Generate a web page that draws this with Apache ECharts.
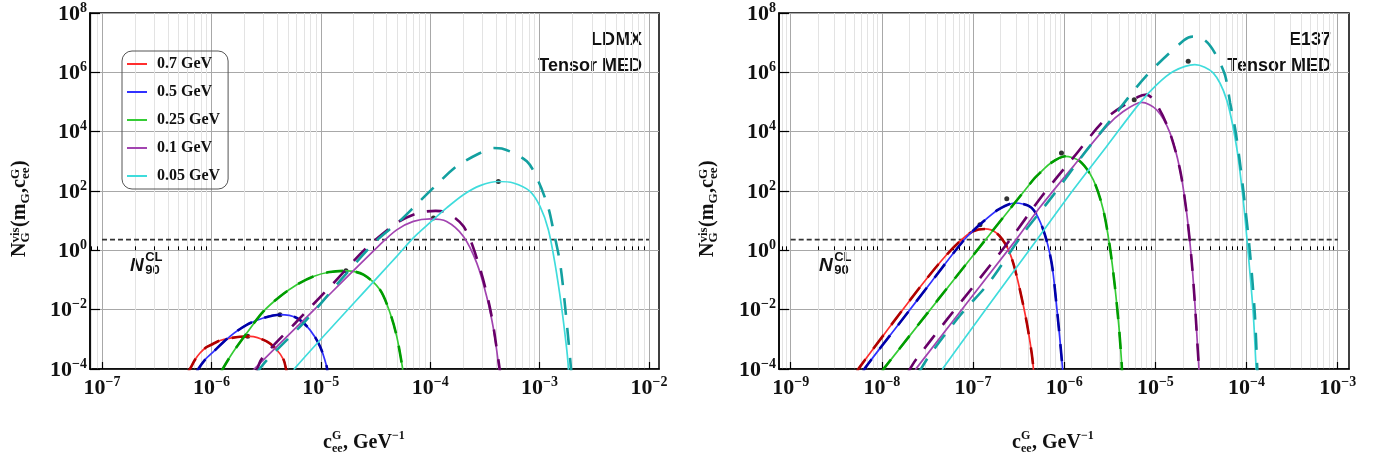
<!DOCTYPE html>
<html>
<head>
<meta charset="utf-8">
<title>N_G^vis vs c_ee^G</title>
<script src="https://cdn.jsdelivr.net/npm/echarts@6.0.0/dist/echarts.min.js"></script>
<style>
html, body { margin: 0; padding: 0; background: #fff; }
#chart { width: 1392px; height: 464px; }
</style>
</head>
<body>
<div id="chart"></div>
<script>
// every value below is log10: x = log10(c_ee^G in GeV^-1), y = log10(N_G^vis)
var massLabels = ['0.7 GeV', '0.5 GeV', '0.25 GeV', '0.1 GeV', '0.05 GeV'];
var xTicksLdmx = [-7, -6, -5, -4, -3, -2];
var xTicksE137 = [-9, -8, -7, -6, -5, -4, -3];
var yTicks = [-4, -2, 0, 2, 4, 6, 8];
var n90 = 2.3;

// LDMX panel
var ldmxRed = [[-6.22,-4.15],[-6.196,-4.0],[-6.15,-3.69],[-6.104,-3.46],[-6.043,-3.26],[-5.983,-3.15],[-5.921,-3.04],[-5.828,-2.96],[-5.739,-2.915],[-5.647,-2.90],[-5.495,-3.07],[-5.403,-3.35],[-5.34,-3.69],[-5.318,-4.0],[-5.31,-4.15]];
var ldmxBlue = [[-6.14,-4.15],[-6.12,-4.0],[-6.059,-3.69],[-5.983,-3.42],[-5.83,-2.90],[-5.677,-2.51],[-5.525,-2.28],[-5.373,-2.17],[-5.22,-2.28],[-5.099,-2.68],[-5.007,-3.24],[-4.946,-3.92],[-4.94,-4.15]];
var ldmxGreen = [[-5.915,-4.15],[-5.897,-4.0],[-5.80,-3.42],[-5.677,-2.79],[-5.525,-2.06],[-5.373,-1.555],[-5.22,-1.16],[-5.069,-0.88],[-4.918,-0.73],[-4.763,-0.69],[-4.61,-0.82],[-4.459,-1.33],[-4.367,-2.11],[-4.306,-2.90],[-4.255,-3.92],[-4.248,-4.15]];
var ldmxPurple = [[-5.64,-4.15],[-5.60,-3.97],[-5.069,-2.03],[-4.459,0.19],[-4.306,0.69],[-4.154,0.975],[-4.0,1.06],[-3.85,0.975],[-3.696,0.47],[-3.574,-0.43],[-3.484,-1.555],[-3.42,-2.68],[-3.377,-3.80],[-3.37,-4.15]];
var ldmxPurpleDash = [[-5.59,-4.15],[-5.54,-3.66],[-5.233,-2.45],[-4.913,-1.22],[-4.59,0.054],[-4.306,0.92],[-4.108,1.26],[-3.95,1.33],[-3.88,1.31],[-3.696,0.81],[-3.56,-0.43],[-3.45,-2.0],[-3.377,-3.69],[-3.36,-4.15]];
var ldmxCyan = [[-5.25,-4.15],[-5.236,-3.97],[-4.459,-0.82],[-4.306,-0.205],[-4.154,0.42],[-4.0,0.94],[-3.85,1.43],[-3.696,1.875],[-3.544,2.18],[-3.377,2.32],[-3.24,2.27],[-3.088,1.99],[-2.996,1.48],[-2.92,0.695],[-2.86,-0.43],[-2.80,-1.89],[-2.755,-3.24],[-2.74,-3.80],[-2.735,-4.15]];
var ldmxCyanDash = [[-5.59,-4.15],[-5.495,-3.71],[-5.135,-2.36],[-4.815,-0.99],[-4.505,0.28],[-4.276,1.0],[-4.124,1.55],[-3.926,2.27],[-3.76,2.83],[-3.544,3.28],[-3.42,3.45],[-3.346,3.43],[-3.117,3.0],[-3.01,2.32],[-2.92,1.43],[-2.875,0.695],[-2.813,-0.43],[-2.767,-1.89],[-2.72,-3.69],[-2.71,-4.15]];
var ldmxDots = [[-5.668,-2.90],[-5.373,-2.17],[-4.77,-0.69],[-3.97,1.09],[-3.377,2.32]];

// E137 panel
var e137Red = [[-8.28,-4.15],[-8.251,-3.97],[-7.911,-2.57],[-7.546,-1.10],[-7.29,-0.15],[-7.125,0.36],[-7.0,0.64],[-6.87,0.72],[-6.741,0.58],[-6.63,0.13],[-6.559,-0.43],[-6.486,-1.33],[-6.41,-2.45],[-6.357,-3.46],[-6.34,-3.92],[-6.335,-4.15]];
var e137Blue = [[-8.21,-4.15],[-8.185,-3.97],[-7.82,-2.51],[-7.454,-1.05],[-7.09,0.38],[-6.906,0.92],[-6.724,1.37],[-6.54,1.595],[-6.357,1.43],[-6.23,0.695],[-6.138,-0.43],[-6.083,-1.89],[-6.04,-3.24],[-6.02,-3.92],[-6.015,-4.15]];
var e137Green = [[-8.0,-4.15],[-7.974,-3.97],[-6.34,2.38],[-6.266,2.61],[-6.157,2.92],[-5.992,3.17],[-5.828,3.0],[-5.682,2.38],[-5.572,1.37],[-5.5,0.13],[-5.444,-1.22],[-5.4,-2.57],[-5.37,-3.80],[-5.365,-4.15]];
var e137Purple = [[-7.65,-4.15],[-7.62,-3.97],[-6.54,0.31],[-6.266,1.45],[-5.9,2.83],[-5.535,4.18],[-5.353,4.68],[-5.151,4.99],[-4.987,4.74],[-4.84,3.96],[-4.73,2.72],[-4.657,1.26],[-4.603,-0.32],[-4.567,-1.78],[-4.542,-3.01],[-4.526,-3.80],[-4.52,-4.15]];
var e137PurpleDash = [[-7.72,-4.15],[-7.627,-3.69],[-7.283,-2.32],[-6.932,-0.97],[-6.588,0.38],[-6.241,1.84],[-5.894,3.15],[-5.535,4.46],[-5.19,5.17],[-5.097,5.25],[-4.97,4.83],[-4.84,3.96],[-4.73,2.72],[-4.657,1.26],[-4.603,-0.32],[-4.567,-1.78],[-4.542,-3.01],[-4.526,-3.80],[-4.52,-4.15]];
var e137Cyan = [[-7.345,-4.15],[-7.327,-3.97],[-6.266,0.5],[-5.9,2.04],[-5.535,3.5],[-5.17,4.97],[-4.987,5.58],[-4.805,6.03],[-4.567,6.26],[-4.366,5.98],[-4.219,5.08],[-4.11,3.5],[-4.037,1.71],[-3.982,-0.09],[-3.927,-2.11],[-3.898,-3.80],[-3.893,-4.15]];
var e137CyanDash = [[-7.60,-4.15],[-7.473,-3.52],[-7.136,-2.17],[-6.822,-1.08],[-6.478,0.45],[-6.12,1.86],[-5.8,3.19],[-5.462,4.50],[-5.097,5.89],[-4.687,7.08],[-4.586,7.21],[-4.457,7.08],[-4.347,6.65],[-4.238,5.92],[-4.18,4.97],[-4.12,4.0],[-4.07,2.9],[-4.02,1.6],[-3.962,-0.09],[-3.91,-2.11],[-3.885,-3.80],[-3.88,-4.15]];
var e137Dots = [[-6.924,0.863],[-6.63,1.74],[-6.03,3.28],[-5.232,5.08],[-4.64,6.37]];

var lightColors = ['#ff2e2e', '#3131ff', '#35cc35', '#a244b0', '#3fdcdc'];
var darkColors = ['#b00000', '#0000a8', '#009c00', '#680068', '#13a0a0'];

var serif = '"Liberation Serif", "DejaVu Serif", serif';
var sans = '"Liberation Sans", Arial, sans-serif';

//刻度标签 10^n
function powLabel(v) {
	var e = Math.round(v);
	return '{b|10}{s|' + (e < 0 ? '\u2212' + (-e) : e) + '}';
}
var powRich = {
	b: {fontFamily: serif, fontWeight: 'bold', fontSize: 22, color: '#111', lineHeight: 24, verticalAlign: 'bottom'},
	s: {fontFamily: serif, fontWeight: 'bold', fontSize: 14, color: '#111', lineHeight: 14, verticalAlign: 'top'}
};

function decadeAxis(grid, lo, hi, ticks) {
	return {
		type: 'value', gridIndex: grid, min: lo, max: hi, position: 'bottom',
		axisLine: {show: true, onZero: false, lineStyle: {color: '#000', width: 1.5}},
		axisTick: {show: true, inside: true, length: 7, customValues: ticks, lineStyle: {color: '#000', width: 1.2}},
		axisLabel: {customValues: ticks, formatter: powLabel, rich: powRich, margin: 6},
		splitLine: {show: true, lineStyle: {color: '#a8a8a8', width: 1}}
	};
}
function minorAxis(grid, lo, hi) {
	var vals = [];
	for (var d = Math.floor(lo); d < Math.ceil(hi); d++) {
		for (var k = 2; k <= 9; k++) {
			var v = d + Math.log10(k);
			if (v > lo && v < hi) vals.push(v);
		}
	}
	return {
		type: 'value', gridIndex: grid, min: lo, max: hi, position: 'bottom',
		axisLine: {show: false},
		axisTick: {show: true, inside: true, length: 4, customValues: vals, lineStyle: {color: '#000', width: 1}},
		axisLabel: {show: false},
		splitLine: {show: true, lineStyle: {color: '#e3e3e3', width: 1}}
	};
}
function countAxis(grid) {
	return {
		type: 'value', gridIndex: grid, min: yTicks[0], max: yTicks[yTicks.length - 1], interval: 2,
		axisLine: {show: true, onZero: false, lineStyle: {color: '#000', width: 1.5}},
		axisTick: {show: true, inside: true, length: 10, lineStyle: {color: '#000', width: 1.2}},
		axisLabel: {formatter: powLabel, rich: powRich, margin: 3},
		splitLine: {show: true, lineStyle: {color: '#a8a8a8', width: 1}}
	};
}
function curve(name, data, color, width, dashed, xi, yi) {
	return {
		name: name, type: 'line', xAxisIndex: xi, yAxisIndex: yi, data: data,
		symbol: 'none', showSymbol: false, smooth: 0.3, clip: true, silent: true,
		lineStyle: {color: color, width: width, type: dashed ? [17, 13] : 'solid'},
		itemStyle: {color: color}
	};
}

//公式文字 (上下标) 由多段文字拼成
var mctx = document.createElement('canvas').getContext('2d');
function textWidth(s, font) { mctx.font = font; return mctx.measureText(s).width; }
function piece(s, x, base, size, font, style) {
	var f = style + ' ' + size + 'px ' + font;
	return {type: 'text', x: x, y: base - 0.34 * size,
		style: {text: s, font: f, fill: '#111', textAlign: 'left', textVerticalAlign: 'middle'}};
}
function mathRow(parts, font, style, size, small, up, down, smallStyle) {
	var out = [], x = 0;
	var ss = smallStyle || style;
	parts.forEach(function (p) {
		if (p.gap) {
			x += p.gap;
		} else if (p.t) {
			out.push(piece(p.t, x, 0, size, font, style));
			x += textWidth(p.t, style + ' ' + size + 'px ' + font);
		} else {
			var w = 0, sf = ss + ' ' + small + 'px ' + font;
			if (p.sup) { out.push(piece(p.sup, x, -up, small, font, ss)); w = Math.max(w, textWidth(p.sup, sf)); }
			if (p.sub) { out.push(piece(p.sub, x, down, small, font, ss)); w = Math.max(w, textWidth(p.sub, sf)); }
			x += w + 0.5;
		}
	});
	return out;
}

var grids = [
	{left: 90, top: 13, width: 569, height: 356},
	{left: 779, top: 13, width: 570, height: 356}
];
var xRangeLdmx = [-7.1097, -1.9086];
var xRangeE137 = [-9.1283, -2.8763];

var yNameParts = [{t: 'N'}, {sup: 'vis', sub: 'G'}, {t: '(m'}, {sub: 'G'}, {t: ',c'}, {sup: 'G', sub: 'ee'}, {t: ')'}];
var xNameParts = [{t: 'c'}, {sup: 'G', sub: 'ee'}, {t: ', GeV'}, {sup: '\u22121'}];
var n90Parts = [{t: 'N'}, {gap: 1.5}, {sup: 'CL', sub: '90'}];
var panelTitles = [['LDMX', 'Tensor MED'], ['E137', 'Tensor MED']];

var graphics = [];
grids.forEach(function (g, i) {
	graphics.push({type: 'group', x: g.left + 233, y: 450,
		children: mathRow(xNameParts, serif, 'bold', 20, 12, 10, 3)});
	graphics.push({type: 'group', x: g.left + 40, y: 272,
		children: mathRow(n90Parts, sans, 'italic bold', 19, 13, 10, 3, 'bold')});
	graphics.push({type: 'text', x: g.left + 552, y: 40,
		style: {text: panelTitles[i][0], font: 'bold 18px ' + sans, fill: '#111', textAlign: 'right', textVerticalAlign: 'middle'}});
	graphics.push({type: 'text', x: g.left + 552, y: 66,
		style: {text: panelTitles[i][1], font: 'bold 18px ' + sans, fill: '#111', textAlign: 'right', textVerticalAlign: 'middle'}});
});
[12, 700].forEach(function (x0) {
	graphics.push({type: 'group', x: x0 + 15, y: 257, rotation: Math.PI / 2,
		children: mathRow(yNameParts, serif, 'bold', 20, 13, 7, 3)});
});

var ldmxSolid = [ldmxRed, ldmxBlue, ldmxGreen, ldmxPurple, ldmxCyan];
var ldmxDashed = [ldmxRed, ldmxBlue, ldmxGreen, ldmxPurpleDash, ldmxCyanDash];
var e137Solid = [e137Red, e137Blue, e137Green, e137Purple, e137Cyan];
var e137Dashed = [e137Red, e137Blue, e137Green, e137PurpleDash, e137CyanDash];

var series = [];
var logN90 = Math.log10(n90);
series.push({type: 'line', xAxisIndex: 0, yAxisIndex: 0, symbol: 'none', silent: true,
	data: [[xTicksLdmx[0], logN90], [xTicksLdmx[xTicksLdmx.length - 1], logN90]],
	lineStyle: {color: '#333', width: 1.6, type: [5, 3]}});
series.push({type: 'line', xAxisIndex: 2, yAxisIndex: 1, symbol: 'none', silent: true,
	data: [[xTicksE137[0], logN90], [xTicksE137[xTicksE137.length - 1], logN90]],
	lineStyle: {color: '#333', width: 1.6, type: [5, 3]}});
for (var i = 0; i < massLabels.length; i++) {
	series.push(curve(massLabels[i], ldmxSolid[i], lightColors[i], 1.7, false, 0, 0));
	series.push(curve(massLabels[i] + ' (dashed)', ldmxDashed[i], darkColors[i], 2.6, true, 0, 0));
	series.push(curve(massLabels[i] + ' E137', e137Solid[i], lightColors[i], 1.7, false, 2, 1));
	series.push(curve(massLabels[i] + ' E137 (dashed)', e137Dashed[i], darkColors[i], 2.6, true, 2, 1));
}
series.push({type: 'scatter', xAxisIndex: 0, yAxisIndex: 0, data: ldmxDots, symbolSize: 5, silent: true, itemStyle: {color: '#000'}});
series.push({type: 'scatter', xAxisIndex: 2, yAxisIndex: 1, data: e137Dots, symbolSize: 5, silent: true, itemStyle: {color: '#000'}});

var option = {
	animation: false,
	backgroundColor: '#fff',
	grid: grids.map(function (g) {
		return {left: g.left, top: g.top, width: g.width, height: g.height, show: true, borderColor: '#000', borderWidth: 1.5};
	}),
	xAxis: [
		decadeAxis(0, xRangeLdmx[0], xRangeLdmx[1], xTicksLdmx),
		minorAxis(0, xRangeLdmx[0], xRangeLdmx[1]),
		decadeAxis(1, xRangeE137[0], xRangeE137[1], xTicksE137),
		minorAxis(1, xRangeE137[0], xRangeE137[1])
	],
	yAxis: [countAxis(0), countAxis(1)],
	legend: {
		data: massLabels, orient: 'vertical', left: 122, top: 51,
		padding: [5, 8, 5, 5], itemGap: 12, itemWidth: 20, itemHeight: 2, icon: 'rect',
		borderColor: '#555', borderWidth: 1, borderRadius: 10, selectedMode: false,
		textStyle: {fontFamily: serif, fontWeight: 'bold', fontSize: 16, color: '#111', padding: [0, 0, 0, 5]}
	},
	graphic: graphics,
	series: series
};

var myChart = echarts.init(document.getElementById('chart'), null, {renderer: 'canvas'});
myChart.setOption(option, true);
</script>
</body>
</html>
